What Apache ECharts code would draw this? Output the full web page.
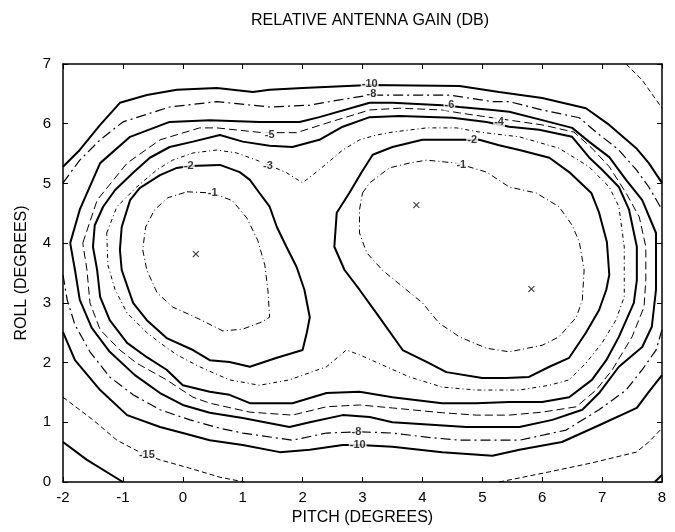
<!DOCTYPE html>
<html><head><meta charset="utf-8">
<script src="https://cdn.jsdelivr.net/npm/echarts@6/dist/echarts.min.js"></script>
<style>html,body{margin:0;padding:0;background:#fff}#c{width:675px;height:532px}</style>
</head><body><div id="c"></div>
<script>
const chartTitle = 'RELATIVE ANTENNA GAIN (DB)';
const xName = 'PITCH (DEGREES)';
const yName = 'ROLL (DEGREES)';
const xTickLabels = ['-2','-1','0','1','2','3','4','5','6','7','8'];
const yTickLabels = ['0','1','2','3','4','5','6','7'];

// contour lines, [pitch, roll] pairs
const gainM1Left = [[0.07,4.86],[0.5,4.84],[0.83,4.71],[1.07,4.42],[1.25,4.05],[1.37,3.63],[1.42,3.22],[1.45,2.76],[1.32,2.68],[1.0,2.56],[0.67,2.53],[0.23,2.75],[-0.17,2.93],[-0.43,3.17],[-0.6,3.55],[-0.67,3.89],[-0.62,4.27],[-0.47,4.56],[-0.25,4.76],[0.07,4.86]];
const gainM1Right = [[3.0,4.84],[3.12,5.01],[3.45,5.26],[3.78,5.34],[4.07,5.39],[4.57,5.34],[5.07,5.19],[5.45,4.94],[5.9,4.84],[6.28,4.61],[6.5,4.3],[6.62,4.02],[6.7,3.55],[6.67,3.05],[6.57,2.76],[6.28,2.43],[6.0,2.29],[5.45,2.18],[5.07,2.24],[4.62,2.43],[4.28,2.66],[4.0,3.0],[3.67,3.27],[3.33,3.55],[3.07,3.84],[2.95,4.17],[2.95,4.56],[3.0,4.84]];
const gainM2Left = [[0.12,5.29],[0.62,5.31],[0.95,5.19],[1.12,5.06],[1.28,4.84],[1.45,4.61],[1.57,4.27],[1.73,3.94],[1.9,3.6],[2.03,3.22],[2.12,2.76],[2.07,2.5],[2.0,2.21],[1.57,2.08],[1.12,1.93],[0.78,2.01],[0.45,2.04],[0.17,2.21],[-0.27,2.41],[-0.6,2.71],[-0.83,3.0],[-1.02,3.55],[-1.05,3.89],[-1.02,4.27],[-0.88,4.72],[-0.72,4.92],[-0.38,5.14],[-0.1,5.26],[0.12,5.29]];
const gainM2Right = [[2.78,4.84],[2.98,5.18],[3.17,5.48],[3.5,5.61],[4.0,5.73],[4.95,5.73],[5.28,5.64],[5.62,5.56],[6.12,5.43],[6.45,5.19],[6.82,4.84],[6.95,4.51],[7.08,4.02],[7.12,3.47],[7.07,3.22],[6.95,2.88],[6.73,2.5],[6.45,2.08],[6.12,1.93],[5.78,1.76],[5.4,1.74],[5.0,1.74],[4.4,1.84],[4.07,2.01],[3.67,2.21],[3.28,2.76],[2.95,3.22],[2.7,3.55],[2.53,3.94],[2.57,4.51],[2.78,4.84]];
const gainM3 = [[-1.27,4.17],[-1.1,4.61],[-0.77,4.94],[-0.43,5.23],[-0.17,5.39],[0.17,5.51],[0.57,5.56],[0.9,5.51],[1.23,5.39],[1.5,5.28],[1.73,5.18],[2.0,5.01],[2.28,5.23],[2.67,5.56],[2.95,5.73],[3.23,5.81],[3.5,5.86],[4.07,5.93],[4.57,5.93],[4.95,5.86],[5.62,5.78],[6.28,5.59],[6.78,5.28],[7.12,4.94],[7.28,4.61],[7.37,3.94],[7.37,3.1],[7.23,2.71],[7.0,2.33],[6.73,1.99],[6.45,1.71],[6.12,1.62],[5.62,1.54],[4.9,1.54],[4.33,1.59],[3.78,1.76],[3.4,1.93],[2.95,2.13],[2.73,2.21],[2.4,1.93],[1.78,1.71],[1.28,1.62],[0.78,1.71],[0.28,1.93],[-0.1,2.13],[-0.38,2.33],[-0.6,2.5],[-0.93,2.83],[-1.13,3.22],[-1.25,3.63],[-1.27,4.17]];
const gainM4 = [[-1.5,3.94],[-1.47,4.3],[-1.33,4.61],[-1.13,4.89],[-0.83,5.18],[-0.55,5.43],[-0.22,5.61],[0.17,5.7],[0.62,5.81],[1.0,5.7],[1.45,5.63],[1.83,5.61],[2.28,5.73],[2.67,5.95],[3.12,6.11],[3.62,6.13],[4.5,6.1],[5.07,6.03],[5.45,5.95],[5.95,5.9],[6.5,5.78],[6.78,5.44],[7.0,5.23],[7.28,4.94],[7.45,4.56],[7.58,3.94],[7.58,3.38],[7.53,3.0],[7.28,2.43],[7.07,2.04],[6.83,1.71],[6.45,1.42],[6.0,1.34],[5.45,1.34],[4.9,1.32],[4.33,1.32],[3.5,1.42],[2.95,1.51],[2.4,1.49],[1.83,1.32],[1.12,1.32],[0.78,1.46],[0.45,1.51],[0.0,1.62],[-0.27,1.88],[-0.6,2.09],[-0.93,2.33],[-1.22,2.71],[-1.38,3.1],[-1.43,3.55],[-1.5,3.94]];
const gainM5 = [[-1.67,4.0],[-1.43,4.72],[-0.93,5.34],[-0.38,5.73],[0.28,5.93],[0.57,5.93],[1.33,5.85],[1.9,5.85],[2.4,6.01],[3.12,6.23],[3.62,6.26],[4.33,6.23],[4.62,6.18],[5.17,6.1],[5.45,6.06],[6.0,5.98],[6.53,5.86],[6.83,5.59],[7.12,5.28],[7.4,4.84],[7.62,4.44],[7.73,3.94],[7.73,3.38],[7.7,2.93],[7.5,2.43],[7.17,1.88],[6.9,1.54],[6.57,1.26],[6.0,1.17],[5.45,1.12],[4.9,1.12],[4.33,1.16],[3.5,1.24],[2.95,1.29],[2.4,1.26],[1.83,1.12],[1.12,1.17],[0.45,1.32],[0.17,1.42],[-0.27,1.71],[-0.77,1.99],[-1.05,2.21],[-1.38,2.55],[-1.55,3.0],[-1.6,3.55],[-1.67,4.0]];
const gainM6 = [[-1.88,4.0],[-1.72,4.56],[-1.38,5.34],[-0.88,5.78],[-0.22,6.03],[0.45,6.06],[1.28,6.03],[1.95,6.03],[2.28,6.11],[3.12,6.35],[3.5,6.35],[4.33,6.31],[4.62,6.28],[5.17,6.23],[5.45,6.2],[6.0,6.06],[6.5,5.93],[6.78,5.7],[7.12,5.44],[7.4,5.06],[7.67,4.72],[7.9,4.17],[7.9,3.22],[7.83,2.6],[7.67,2.26],[7.28,1.93],[6.95,1.49],[6.67,1.21],[6.17,1.04],[5.62,0.92],[4.73,0.92],[4.28,0.95],[3.5,1.0],[3.12,1.09],[2.67,1.12],[2.12,1.0],[1.78,0.92],[1.0,1.07],[0.45,1.16],[0.0,1.29],[-0.38,1.49],[-0.8,1.79],[-1.22,2.18],[-1.52,2.58],[-1.72,3.05],[-1.8,3.55],[-1.88,4.0]];
const gainM8Top = [[-2.0,5.01],[-1.72,5.39],[-1.38,5.73],[-1.0,6.03],[-0.22,6.28],[0.57,6.37],[1.45,6.28],[2.12,6.31],[2.62,6.4],[3.12,6.48],[3.9,6.48],[4.45,6.48],[5.17,6.37],[5.45,6.37],[6.0,6.23],[6.62,6.1],[6.9,5.86],[7.28,5.56],[7.57,5.23],[7.78,4.94],[8.0,4.56]];
const gainM8Bottom = [[8.0,2.55],[7.9,2.21],[7.67,1.88],[7.4,1.54],[6.95,1.21],[6.4,0.87],[5.62,0.7],[4.62,0.7],[4.07,0.75],[3.5,0.82],[2.95,0.84],[2.4,0.82],[1.83,0.7],[1.0,0.82],[0.62,0.9],[0.12,1.04],[-0.38,1.21],[-0.83,1.46],[-1.22,1.76],[-1.55,2.18],[-1.8,2.63],[-1.93,3.05],[-2.0,3.47]];
const gainM10Top = [[-2.0,5.28],[-1.72,5.56],[-1.38,5.98],[-1.05,6.35],[-0.6,6.48],[-0.1,6.57],[0.57,6.6],[1.17,6.53],[1.45,6.57],[2.0,6.6],[3.12,6.65],[4.62,6.63],[5.28,6.53],[6.0,6.43],[6.73,6.26],[7.12,5.98],[7.57,5.59],[7.78,5.34],[8.0,5.01]];
const gainM10Bottom = [[8.0,1.79],[7.78,1.51],[7.58,1.24],[6.95,0.95],[6.33,0.67],[5.62,0.54],[5.17,0.44],[4.33,0.5],[3.5,0.59],[2.95,0.62],[2.67,0.62],[2.12,0.54],[1.62,0.5],[1.0,0.62],[0.45,0.7],[0.0,0.82],[-0.38,0.92],[-0.93,1.12],[-1.38,1.54],[-1.8,2.04],[-2.0,2.51]];
const gainM15Left = [[-2.0,1.42],[-1.5,1.04],[-1.1,0.7],[-0.72,0.5],[-0.38,0.37],[0.12,0.23],[0.62,0.08],[1.03,0.0]];
const gainM15Right = [[5.28,0.0],[6.12,0.17],[6.83,0.32],[7.57,0.5],[7.78,0.67],[8.0,0.9]];
const gainM15Corner = [[7.4,7.0],[7.67,6.73],[8.0,6.26]];
const gainM20Left = [[-2.0,0.67],[-1.6,0.37],[-1.0,0.0]];
const gainM20Right = [[7.88,0.0],[8.0,0.12]];

// level labels written on the lines
const levelLabelText = ['-2','-3','-5','-10','-8','-6','-4','-2','-1','-1','-8','-10','-15'];
const levelLabelX = [0.1,1.42,1.45,3.12,3.15,4.45,5.28,4.83,4.65,0.5,2.9,2.92,-0.6];
const levelLabelY = [5.29,5.3,5.81,6.67,6.5,6.31,6.03,5.73,5.31,4.84,0.84,0.62,0.45];

// gain maxima marks
const peakX = [0.22,3.9,5.82];
const peakY = [3.8,4.62,3.22];

const FONT = '"Liberation Sans",Arial,sans-serif';
const thick = {color:'#000', width:2, type:'solid'};
const styles = {
  m1: {color:'#000', width:1, type:[6,3,1,3]},
  m2: thick,
  m3: {color:'#000', width:1, type:[4,3,1,3]},
  m4: thick,
  m5: {color:'#000', width:1, type:[8,4]},
  m6: thick,
  m8: {color:'#000', width:1.2, type:[10,4,2,4]},
  m10: thick,
  m15: {color:'#000', width:1, type:[5,3]},
  m20: thick
};
const lines = [
  [gainM1Left,'m1'],[gainM1Right,'m1'],[gainM2Left,'m2'],[gainM2Right,'m2'],
  [gainM3,'m3'],[gainM4,'m4'],[gainM5,'m5'],[gainM6,'m6'],
  [gainM8Top,'m8'],[gainM8Bottom,'m8'],[gainM10Top,'m10'],[gainM10Bottom,'m10'],
  [gainM15Left,'m15'],[gainM15Right,'m15'],[gainM15Corner,'m15'],
  [gainM20Left,'m20'],[gainM20Right,'m20']
];
const series = lines.map(([d,k]) => ({
  type:'line', data:d, showSymbol:false, symbol:'none', silent:true,
  lineStyle:styles[k], clip:true, z:2, animation:false
}));
series.push({
  type:'scatter', symbolSize:0, silent:true, z:5, animation:false,
  data: levelLabelText.map((t,i)=>({value:[levelLabelX[i],levelLabelY[i]], name:t})),
  label:{show:true, position:'inside', formatter:p=>p.name, color:'#000',
    fontSize:11, fontWeight:'bold', fontFamily:FONT, backgroundColor:'#fff', padding:[0,1]}
});
series.push({
  type:'scatter', symbolSize:0, silent:true, z:5, animation:false,
  data: peakX.map((x,i)=>[x,peakY[i]]),
  label:{show:true, position:'inside', formatter:'\u00d7', color:'#000', fontSize:15, fontFamily:FONT}
});

const axisLineStyle = {onZero:false, lineStyle:{color:'#000', width:1.5}};
const tickStyle = {inside:true, length:5, lineStyle:{color:'#000'}};
const chart = echarts.init(document.getElementById('c'), null, {renderer:'canvas'});
chart.setOption({
  backgroundColor:'#fff',
  animation:false,
  title:{text:chartTitle, left:365, top:8, textAlign:'center',
    textStyle:{fontSize:16, fontWeight:'normal', color:'#000', fontFamily:FONT}},
  grid:{left:63, right:13, top:64, bottom:50},
  xAxis:[
    {type:'value', min:-2, max:8, interval:1, position:'bottom',
     axisLine:axisLineStyle, axisTick:tickStyle,
     splitLine:{show:false},
     axisLabel:{color:'#000', fontSize:15, margin:8, fontFamily:FONT,
       formatter:v=>xTickLabels[Math.round(v)+2]},
     name:xName, nameLocation:'middle', nameGap:26,
     nameTextStyle:{color:'#000', fontSize:16, fontFamily:FONT}},
    {type:'value', min:-2, max:8, interval:1, position:'top',
     axisLine:axisLineStyle, axisTick:tickStyle,
     splitLine:{show:false}, axisLabel:{show:false}}
  ],
  yAxis:[
    {type:'value', min:0, max:7, interval:1, position:'left',
     axisLine:axisLineStyle, axisTick:tickStyle,
     splitLine:{show:false},
     axisLabel:{color:'#000', fontSize:15, margin:12, fontFamily:FONT,
       formatter:v=>yTickLabels[Math.round(v)]},
     name:yName, nameLocation:'middle', nameGap:33, nameRotate:90,
     nameTextStyle:{color:'#000', fontSize:16, fontFamily:FONT}},
    {type:'value', min:0, max:7, interval:1, position:'right',
     axisLine:axisLineStyle, axisTick:tickStyle,
     splitLine:{show:false}, axisLabel:{show:false}}
  ],
  series:series
});
</script></body></html>
